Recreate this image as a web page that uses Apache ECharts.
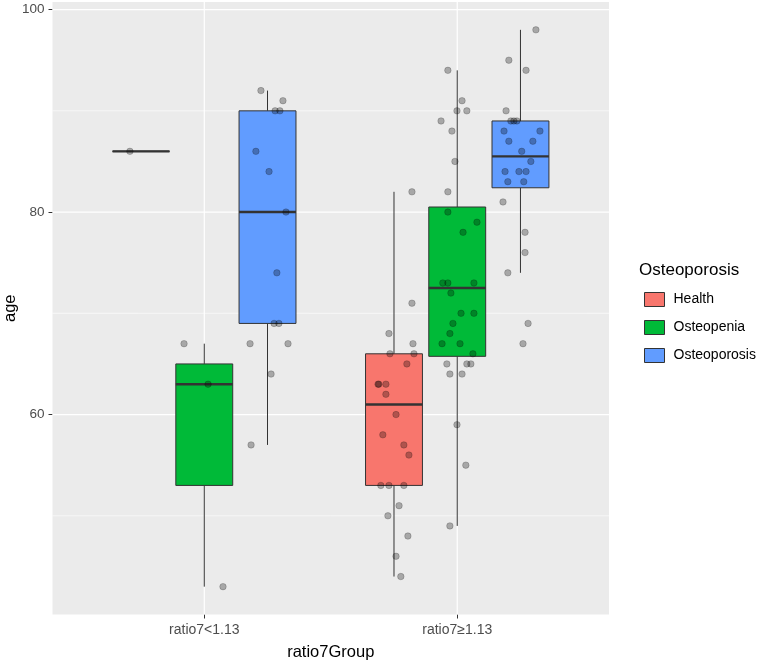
<!DOCTYPE html>
<html>
<head>
<meta charset="utf-8">
<script src="https://cdn.jsdelivr.net/npm/echarts@6/dist/echarts.min.js"></script>
<style>
  html, body { margin: 0; padding: 0; background: #fff; }
  #main { width: 762px; height: 662px; }
</style>
</head>
<body>
<div id="main"></div>
<script>
var groupNames = ['ratio7<1.13', 'ratio7≥1.13'];
var fillNames = ['Health', 'Osteopenia', 'Osteoporosis'];
var fillColors = ['#F8766D', '#00BA38', '#619CFF'];
var yMajor = [60, 80, 100];
var yMinor = [50, 70, 90];

// box stats per x group: [min, q1, median, q3, max]
var healthBox = [[86, 86, 86, 86, 86], [44, 53, 61, 66, 82]];
var osteopeniaBox = [[43, 53, 63, 65, 67], [49, 65.75, 72.5, 80.5, 94]];
var osteoporosisBox = [[57, 69, 80, 90, 92], [74, 82.4, 85.5, 89, 98]];

// jittered points: [x on the group axis, age]
var healthPts = [
  [0.706, 86],
  [1.821, 82], [1.821, 71], [1.730, 68], [1.825, 67], [1.734, 66], [1.829, 66],
  [1.801, 65], [1.690, 63], [1.687, 63], [1.718, 63], [1.718, 62], [1.758, 60],
  [1.706, 58], [1.789, 57], [1.809, 56], [1.698, 53], [1.730, 53], [1.789, 53],
  [1.770, 51], [1.726, 50], [1.805, 48], [1.758, 46], [1.777, 44]
];
var osteopeniaPts = [
  [0.920, 67], [1.015, 63], [1.074, 43],
  [1.963, 94], [2.019, 91], [1.999, 90], [2.038, 90], [1.936, 89], [1.979, 88],
  [1.991, 85], [1.963, 82], [1.963, 80], [2.078, 79], [2.023, 78], [1.943, 73],
  [1.963, 73], [2.066, 73], [1.975, 72], [2.015, 70], [2.066, 70], [1.983, 69],
  [1.971, 68], [1.940, 67], [2.011, 67], [2.062, 66], [1.959, 65], [2.038, 65],
  [2.054, 65], [1.971, 64], [2.019, 64], [1.999, 59], [2.034, 55], [1.971, 49]
];
var osteoporosisPts = [
  [1.224, 92], [1.311, 91], [1.280, 90], [1.299, 90], [1.204, 86], [1.256, 84],
  [1.323, 80], [1.287, 74], [1.276, 69], [1.295, 69], [1.181, 67], [1.331, 67],
  [1.264, 64], [1.185, 57],
  [2.311, 98], [2.204, 95], [2.272, 94], [2.193, 90], [2.212, 89], [2.224, 89],
  [2.236, 89], [2.185, 88], [2.327, 88], [2.204, 87], [2.299, 87], [2.255, 86],
  [2.291, 85], [2.189, 84], [2.244, 84], [2.272, 84], [2.200, 83], [2.263, 83],
  [2.181, 81], [2.268, 78], [2.268, 76], [2.200, 74], [2.280, 69], [2.260, 67]
];

var xMin = 0.4, xMax = 2.6;
var dodge = [-0.25, 0, 0.25];
var boxWidth = 0.225;
var font = 'Liberation Sans, Arial, sans-serif';

var chart = echarts.init(document.getElementById('main'));

function gridRender(width) {
  return function (params, api) {
    var v = api.value(0);
    var a, b;
    if (api.value(1) === 1) {
      a = api.coord([v, 40.25]);
      b = api.coord([v, 100.75]);
    } else {
      a = api.coord([xMin, v]);
      b = api.coord([xMax, v]);
    }
    return {
      type: 'line',
      shape: { x1: a[0], y1: a[1], x2: b[0], y2: b[1] },
      style: { stroke: '#fff', lineWidth: width }
    };
  };
}

function boxRender(params, api) {
  var x = api.value(0);
  var lo = api.coord([x, api.value(1)]);
  var q1 = api.coord([x, api.value(2)]);
  var md = api.coord([x, api.value(3)]);
  var q3 = api.coord([x, api.value(4)]);
  var hi = api.coord([x, api.value(5)]);
  var w = api.size([boxWidth, 0])[0];
  var fill = api.visual('color');
  return {
    type: 'group',
    children: [
      { type: 'line', shape: { x1: lo[0], y1: lo[1], x2: q1[0], y2: q1[1] }, style: { stroke: '#333', lineWidth: 1 } },
      { type: 'line', shape: { x1: q3[0], y1: q3[1], x2: hi[0], y2: hi[1] }, style: { stroke: '#333', lineWidth: 1 } },
      { type: 'rect', shape: { x: q1[0] - w / 2, y: q3[1], width: w, height: q1[1] - q3[1] }, style: { fill: fill, stroke: '#333', lineWidth: 1 } },
      { type: 'line', shape: { x1: md[0] - w / 2, y1: md[1], x2: md[0] + w / 2, y2: md[1] }, style: { stroke: '#333', lineWidth: 2.4 } }
    ]
  };
}

function boxData(stats, k) {
  return stats.map(function (s, g) {
    return [g + 1 + dodge[k]].concat(s);
  });
}

var boxes = [healthBox, osteopeniaBox, osteoporosisBox];
var series = [
  {
    type: 'custom', silent: true, z: 1,
    renderItem: gridRender(0.6),
    data: yMinor.map(function (v) { return [v, 0]; })
  },
  {
    type: 'custom', silent: true, z: 1,
    renderItem: gridRender(1.2),
    data: yMajor.map(function (v) { return [v, 0]; }).concat([[1, 1], [2, 1]])
  }
];
fillNames.forEach(function (name, k) {
  series.push({
    name: name,
    type: 'custom',
    z: 2,
    itemStyle: { color: fillColors[k] },
    renderItem: boxRender,
    encode: { x: 0, y: [1, 2, 3, 4, 5] },
    data: boxData(boxes[k], k)
  });
});
series.push({
  type: 'scatter',
  z: 3,
  symbolSize: 6.5,
  itemStyle: { color: 'rgba(0,0,0,0.36)', borderColor: 'rgba(0,0,0,0.3)', borderWidth: 0.8 },
  data: healthPts.concat(osteopeniaPts, osteoporosisPts)
});

chart.setOption({
  animation: false,
  textStyle: { fontFamily: font },
  title: {
    text: 'Osteoporosis',
    left: 634, top: 257,
    textStyle: { fontSize: 17, fontWeight: 'normal', color: '#000', fontFamily: font }
  },
  legend: {
    orient: 'vertical',
    left: 639, top: 287,
    itemWidth: 20, itemHeight: 14, itemGap: 13,
    icon: 'rect',
    itemStyle: { borderColor: '#333', borderWidth: 1 },
    textStyle: { fontSize: 14, color: '#000', fontFamily: font, padding: [0, 0, 0, 4] },
    data: fillNames
  },
  grid: {
    left: 52.5, right: 153, top: 2, bottom: 47.5,
    outerBoundsMode: 'none',
    containLabel: false,
    show: true, backgroundColor: '#EBEBEB', borderWidth: 0
  },
  xAxis: {
    type: 'value', min: xMin, max: xMax,
    name: 'ratio7Group', nameLocation: 'middle', nameGap: 29,
    nameMoveOverlap: false,
    nameTextStyle: { fontSize: 16.5, color: '#000', fontFamily: font },
    axisLine: { show: false },
    axisTick: { show: true, length: 4, customValues: [1, 2], lineStyle: { color: '#333' } },
    axisLabel: {
      customValues: [1, 2], margin: 9, fontSize: 14, color: '#4D4D4D',
      formatter: function (v) { return groupNames[Math.round(v) - 1]; }
    },
    splitLine: { show: false }
  },
  yAxis: {
    type: 'value', min: 40.25, max: 100.75,
    name: 'age', nameLocation: 'middle', nameGap: 34,
    nameMoveOverlap: false,
    nameTextStyle: { fontSize: 16.5, color: '#000', fontFamily: font },
    axisLine: { show: false },
    axisTick: { show: true, length: 4, customValues: yMajor, lineStyle: { color: '#333' } },
    axisLabel: { customValues: yMajor, margin: 8, fontSize: 13.5, color: '#4D4D4D' },
    splitLine: { show: false }
  },
  series: series
});
</script>
</body>
</html>
